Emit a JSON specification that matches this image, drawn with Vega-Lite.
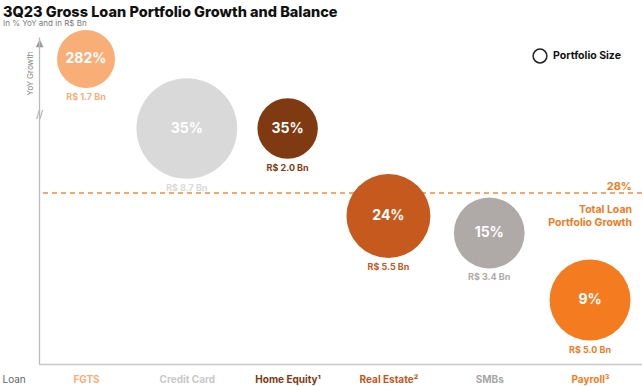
{
  "$schema": "https://vega.github.io/schema/vega-lite/v6.json",
  "width": 603,
  "height": 327,
  "autosize": {"type": "none"},
  "padding": {"left": 39, "top": 37, "right": 0, "bottom": 22},
  "background": "white",
  "config": {
    "font": "Inter",
    "view": {"stroke": null},
    "axis": {"grid": false},
    "locale": {"number": {"decimal": ".", "thousands": ",", "grouping": [3], "currency": ["R$ ", " Bn"]}}
  },
  "title": {
    "text": "3Q23 Gross Loan Portfolio Growth and Balance",
    "subtitle": "In % YoY and in R$ Bn",
    "anchor": "start",
    "frame": "group",
    "dx": -36,
    "dy": 5,
    "offset": 6,
    "fontSize": 14.5,
    "fontWeight": 800,
    "color": "#111111",
    "subtitleFontSize": 8,
    "subtitleColor": "#777777",
    "subtitlePadding": 0
  },
  "datasets": {
    "loans": [
      {"loan": "FGTS", "growth": 2.82, "balance": 1.7},
      {"loan": "Credit Card", "growth": 0.35, "balance": 8.7},
      {"loan": "Home Equity¹", "growth": 0.35, "balance": 2.0},
      {"loan": "Real Estate²", "growth": 0.24, "balance": 5.5},
      {"loan": "SMBs", "growth": 0.15, "balance": 3.4},
      {"loan": "Payroll³", "growth": 0.09, "balance": 5.0}
    ],
    "total": [
      {"loan": "Payroll³", "growth": 0.28, "label": "Total Loan\nPortfolio Growth"}
    ]
  },
  "layer": [
    {
      "data": {"name": "total"},
      "mark": {"type": "rule", "color": "#F58A3A", "strokeDash": [5, 4], "strokeWidth": 1.5},
      "encoding": {
        "y": {
          "field": "growth", "type": "quantitative",
          "scale": {"domain": [0, 0.09, 0.15, 0.24, 0.28, 0.35, 2.82, 3.2], "range": [327, 263, 196, 179, 156, 91.5, 22, 0], "zero": false, "nice": false},
          "axis": {
            "orient": "left", "title": "YoY Growth", "titleX": -9, "titleY": 36, "titleAngle": 270,
            "titleAlign": "center", "titleBaseline": "middle", "titleFontSize": 8, "titleFontWeight": "normal",
            "titleColor": "#888888", "domainColor": "#BBBBBB", "domainWidth": 1.3, "ticks": false, "tickSize": 0,
            "labelPadding": 0, "labelAlign": "center", "labelBaseline": "middle", "values": [0.83, 3.1],
            "labelExpr": "datum.value > 3 ? '▲' : '//'", "labelColor": "#999999", "labelFontSize": 10,
            "labelFont": "DejaVu Sans", "labelOverlap": false, "labelFlush": false, "labelBound": false
          }
        }
      }
    },
    {
      "data": {"name": "loans"},
      "mark": {"type": "point", "filled": true, "opacity": 1, "strokeWidth": 0},
      "encoding": {
        "x": {
          "field": "loan", "type": "nominal",
          "scale": {"type": "point", "domain": ["FGTS", "Credit Card", "Home Equity¹", "Real Estate²", "SMBs", "Payroll³"], "padding": 0.491, "align": 0.475},
          "axis": {
            "orient": "bottom", "title": "Loan", "titleX": -37, "titleY": 15, "titleAlign": "left", "titleAnchor": "start",
            "titleBaseline": "middle", "titleFontSize": 10, "titleFontWeight": "normal", "titleColor": "#666666",
            "domainColor": "#C8C8C8", "domainWidth": 1.5, "ticks": false, "tickSize": 0, "labelPadding": 15,
            "labelBaseline": "middle", "labelFontSize": 10, "labelFontWeight": 700, "labelAngle": 0,
            "labelColor": {
              "condition": [
                {"test": "datum.value == 'FGTS'", "value": "#F9AE78"},
                {"test": "datum.value == 'Credit Card'", "value": "#C8C8C8"},
                {"test": "datum.value == 'Home Equity¹'", "value": "#7F3A12"},
                {"test": "datum.value == 'Real Estate²'", "value": "#C4561A"},
                {"test": "datum.value == 'SMBs'", "value": "#A7A7A7"}
              ],
              "value": "#F37B20"
            }
          }
        },
        "y": {
          "field": "growth", "type": "quantitative",
          "scale": {"domain": [0, 0.09, 0.15, 0.24, 0.28, 0.35, 2.82, 3.2], "range": [327, 263, 196, 179, 156, 91.5, 22, 0], "zero": false, "nice": false}
        },
        "size": {"field": "balance", "type": "quantitative", "scale": {"domain": [1.7, 8.7], "range": [3360, 10150], "zero": false}, "legend": null},
        "color": {
          "field": "loan", "type": "nominal",
          "scale": {"domain": ["FGTS", "Credit Card", "Home Equity¹", "Real Estate²", "SMBs", "Payroll³"], "range": ["#F9AE78", "#D9D9D9", "#7F3A12", "#C65A1E", "#AFAAA8", "#F47B20"]},
          "legend": null
        },
        "shape": {
          "datum": "Portfolio Size",
          "scale": {"range": ["circle"]},
          "legend": {
            "orient": "none", "legendX": 493, "legendY": 11, "title": null, "padding": 0,
            "symbolSize": 190, "symbolFillColor": "white", "symbolStrokeColor": "#222222", "symbolStrokeWidth": 1.5,
            "labelFontSize": 10.5, "labelFontWeight": 700, "labelColor": "#111111", "labelOffset": 5,
            "encode": {"symbols": {"update": {"fill": {"value": "white"}, "stroke": {"value": "#222222"}, "strokeWidth": {"value": 1.5}, "opacity": {"value": 1}}}}
          }
        }
      }
    },
    {
      "data": {"name": "loans"},
      "mark": {"type": "text", "color": "white", "fontSize": 14, "fontWeight": 700, "baseline": "middle", "align": "center"},
      "encoding": {
        "x": {"field": "loan", "type": "nominal", "scale": {"type": "point", "domain": ["FGTS", "Credit Card", "Home Equity¹", "Real Estate²", "SMBs", "Payroll³"], "padding": 0.491, "align": 0.475}},
        "y": {"field": "growth", "type": "quantitative", "scale": {"domain": [0, 0.09, 0.15, 0.24, 0.28, 0.35, 2.82, 3.2], "range": [327, 263, 196, 179, 156, 91.5, 22, 0], "zero": false, "nice": false}},
        "text": {"field": "growth", "type": "quantitative", "format": ".0%"}
      }
    },
    {
      "data": {"name": "loans"},
      "mark": {"type": "text", "fontSize": 9, "fontWeight": 700, "baseline": "middle", "align": "center", "dy": {"expr": "sqrt(scale('size', datum.balance)) / 2 + 9"}},
      "encoding": {
        "x": {"field": "loan", "type": "nominal", "scale": {"type": "point", "domain": ["FGTS", "Credit Card", "Home Equity¹", "Real Estate²", "SMBs", "Payroll³"], "padding": 0.491, "align": 0.475}},
        "y": {"field": "growth", "type": "quantitative", "scale": {"domain": [0, 0.09, 0.15, 0.24, 0.28, 0.35, 2.82, 3.2], "range": [327, 263, 196, 179, 156, 91.5, 22, 0], "zero": false, "nice": false}},
        "text": {"field": "balance", "type": "quantitative", "format": "$.1f"},
        "color": {
          "field": "loan", "type": "nominal",
          "scale": {"domain": ["FGTS", "Credit Card", "Home Equity¹", "Real Estate²", "SMBs", "Payroll³"], "range": ["#F9AE78", "#D9D9D9", "#7F3A12", "#C65A1E", "#AFAAA8", "#F47B20"]},
          "legend": null
        }
      }
    },
    {
      "data": {"name": "total"},
      "mark": {"type": "text", "color": "#F07B22", "fontSize": 11, "fontWeight": 700, "align": "right", "baseline": "alphabetic", "dx": 42, "dy": -3},
      "encoding": {
        "x": {"field": "loan", "type": "nominal", "scale": {"type": "point", "domain": ["FGTS", "Credit Card", "Home Equity¹", "Real Estate²", "SMBs", "Payroll³"], "padding": 0.491, "align": 0.475}},
        "y": {"field": "growth", "type": "quantitative", "scale": {"domain": [0, 0.09, 0.15, 0.24, 0.28, 0.35, 2.82, 3.2], "range": [327, 263, 196, 179, 156, 91.5, 22, 0], "zero": false, "nice": false}},
        "text": {"field": "growth", "type": "quantitative", "format": ".0%"}
      }
    },
    {
      "data": {"name": "total"},
      "mark": {"type": "text", "color": "#F07B22", "fontSize": 10.5, "fontWeight": 700, "align": "right", "baseline": "alphabetic", "dx": 42, "dy": 20, "lineBreak": "\n", "lineHeight": 12.5},
      "encoding": {
        "x": {"field": "loan", "type": "nominal", "scale": {"type": "point", "domain": ["FGTS", "Credit Card", "Home Equity¹", "Real Estate²", "SMBs", "Payroll³"], "padding": 0.491, "align": 0.475}},
        "y": {"field": "growth", "type": "quantitative", "scale": {"domain": [0, 0.09, 0.15, 0.24, 0.28, 0.35, 2.82, 3.2], "range": [327, 263, 196, 179, 156, 91.5, 22, 0], "zero": false, "nice": false}},
        "text": {"field": "label", "type": "nominal"}
      }
    }
  ]
}
